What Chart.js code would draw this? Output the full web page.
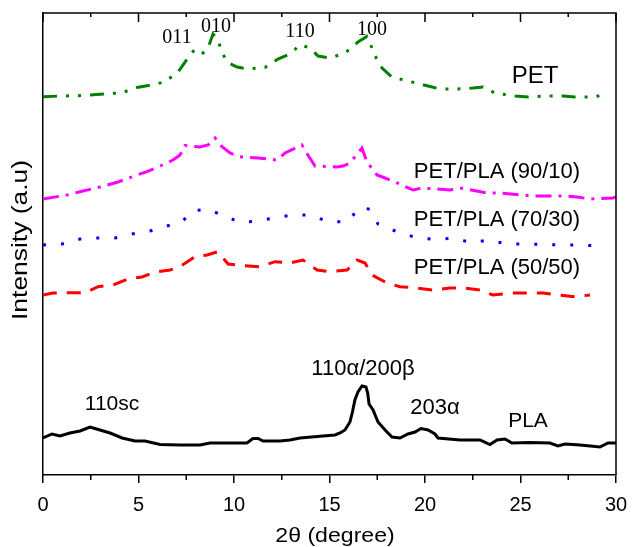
<!DOCTYPE html>
<html>
<head>
<meta charset="utf-8">
<script src="https://cdn.jsdelivr.net/npm/chart.js@4.4.1/dist/chart.umd.min.js"></script>
<style>
  html, body { margin: 0; padding: 0; background: #fff; }
  #wrap { width: 632px; height: 547px; }
</style>
</head>
<body>
<div id="wrap"><canvas id="xrd" width="632" height="547"></canvas></div>
<script>
// x tick labels and range
const xTicks = [0, 5, 10, 15, 20, 25, 30];

// PLA (black solid)
const plaX = [0, 0.47, 0.89, 1.41, 1.94, 2.46, 2.98, 3.51, 4.14, 4.82, 5.34, 6.13, 7.17, 8.22, 8.74, 9.79, 10.68, 10.99, 11.26, 11.52, 12.41, 12.93, 13.46, 14.66, 15.29, 15.55, 15.81, 16.07, 16.2, 16.33, 16.49, 16.7, 16.91, 17.0, 17.07, 17.28, 17.54, 17.91, 18.27, 18.69, 19.11, 19.48, 19.79, 20.16, 20.52, 20.68, 21.83, 22.88, 23.4, 23.77, 24.19, 24.55, 25.5, 26.54, 26.96, 27.33, 28.12, 29.16, 29.58, 30];
const plaY = [37, 41, 39, 42, 44, 48, 45, 42, 37, 34, 34, 30.5, 30, 30, 32, 32, 32, 36.5, 36.5, 34, 34, 35, 37, 39, 40, 42, 45, 53, 63, 75, 83, 89, 88, 82, 71, 65, 53, 45, 38, 37, 41, 43, 46.5, 45, 41, 37, 35, 35, 30.5, 35, 36, 32, 32.5, 32, 29, 31, 30, 28, 32, 32];

// PET (green dash-dot-dot)
const petX = [0, 0.89, 2.2, 2.98, 4.14, 4.92, 5.86, 6.39, 7.07, 7.59, 7.96, 8.38, 8.64, 8.9, 9.16, 9.37, 9.63, 10.16, 10.73, 11.62, 12.3, 12.93, 13.46, 13.98, 14.4, 15.03, 15.81, 16.49, 16.96, 17.23, 17.49, 17.75, 18.27, 19.21, 20.16, 20.79, 21.73, 22.51, 23.04, 23.66, 24.71, 25.39, 26.28, 27.23, 27.85, 28.9, 29.53];
const petY = [378.3, 379, 379.5, 380.7, 382.3, 387.5, 390.7, 393.3, 403, 417, 426, 422, 427, 441, 435, 423, 413, 408, 406, 407.5, 416, 421, 430, 427, 419, 417, 422, 433, 438.5, 427, 415, 407, 398, 393.5, 389, 386, 386, 387, 388, 382, 379, 378, 379, 379, 378, 378, 382];

// PET/PLA (90/10) (magenta dash-dot)
const p90X = [0, 1.26, 1.94, 2.98, 3.93, 4.92, 5.45, 6.13, 6.81, 7.17, 7.43, 8.22, 8.64, 9.01, 9.27, 9.79, 10.31, 11.26, 12.25, 12.67, 13.56, 13.87, 14.24, 15.39, 15.71, 16.07, 16.7, 16.96, 17.49, 17.91, 18.43, 19.37, 19.84, 21.31, 21.83, 23.25, 23.93, 25.65, 27.43, 27.96, 28.64, 29.84, 30];
const p90Y = [276, 280, 283.3, 288, 293, 300, 303.3, 309, 315, 320, 329.5, 328, 330, 337, 330, 322, 318.3, 317, 315, 322, 330, 320, 309, 308, 309, 312, 327, 313, 300, 297, 293, 285, 287, 285, 287, 282, 282, 279, 279, 278, 276, 277, 278];

// PET/PLA (70/30) (blue dotted)
const p70X = [0, 0.99, 1.94, 2.88, 3.77, 4.66, 5.6, 6.49, 7.28, 7.85, 8.64, 9.37, 10.31, 11.26, 12.25, 13.09, 13.98, 14.92, 15.92, 16.6, 17.12, 17.54, 18.53, 19.48, 20.42, 21.47, 22.46, 23.3, 24.29, 25.24, 26.18, 27.17, 28.12, 29.06];
const p70Y = [230, 231, 236, 237, 237, 241, 244, 249, 253.3, 264.3, 265.7, 260, 252.7, 254, 257.7, 260, 260, 253.3, 253.3, 267.7, 265.7, 251, 243.3, 237.7, 235.7, 236.7, 232.3, 235, 231, 231, 230.7, 230, 230, 229];

// PET/PLA (50/50) (red dashed)
const p50X = [0, 0.52, 1.31, 2.2, 2.88, 3.66, 4.45, 5.18, 5.86, 6.65, 7.17, 7.96, 8.59, 9.16, 9.69, 10.47, 11.36, 12.15, 12.93, 13.61, 14.35, 15.03, 15.92, 16.44, 16.86, 17.23, 18.01, 18.69, 19.58, 20.37, 21.31, 21.99, 22.88, 23.56, 24.55, 25.34, 26.18, 26.96, 27.85, 28.64];
const p50Y = [180, 182, 182.3, 182.3, 188.3, 190, 196, 198, 203, 205, 208.3, 218.3, 220, 223.3, 211, 209.3, 208.3, 213.3, 212, 215, 205, 203.3, 205, 215, 212, 200, 192, 188.3, 187, 185, 187, 187, 185, 180, 182, 182, 182, 180, 178.3, 180];

function pts(xs, ys) {
    return xs.map((x, i) => ({ x: x, y: ys[i] }));
}

const sans = 'Liberation Sans, Arial, sans-serif';
const serif = 'Liberation Serif, Times New Roman, serif';

// Các nhãn chữ trên biểu đồ: [text, x px, baseline px, font]
const labels = [
    ['011', 177, 43, '20px ' + serif],
    ['010', 216, 32, '20px ' + serif],
    ['110', 300, 37, '20px ' + serif],
    ['100', 372, 35, '20px ' + serif],
    ['PET', 535, 83, '24px ' + sans],
    ['PET/PLA (90/10)', 497, 178, '22px ' + sans],
    ['PET/PLA (70/30)', 497, 226, '22px ' + sans],
    ['PET/PLA (50/50)', 497, 274, '22px ' + sans],
    ['110sc', 112, 410, '21px ' + sans],
    ['110\u03b1/200\u03b2', 363, 375, '22px ' + sans],
    ['203\u03b1', 435, 414, '22px ' + sans],
    ['PLA', 528, 427, '21px ' + sans]
];

// plugin vẽ khung, vạch chia phụ và chữ
const decor = {
    id: 'decor',
    afterDraw(chart) {
        const ctx = chart.ctx;
        const a = chart.chartArea;
        const xs = chart.scales.x;
        ctx.save();
        ctx.strokeStyle = '#000';
        ctx.lineWidth = 1.5;
        ctx.beginPath();
        ctx.moveTo(a.left, a.top);
        ctx.lineTo(a.right, a.top);
        ctx.lineTo(a.right, a.bottom);
        ctx.stroke();
        // ticks
        ctx.beginPath();
        for (let v = 0; v <= 30; v += 2.5) {
            const px = xs.getPixelForValue(v);
            const major = v % 5 === 0;
            ctx.moveTo(px, a.top);
            ctx.lineTo(px, a.top + (major ? 9 : 4));
            if (!major) {
                ctx.moveTo(px, a.bottom);
                ctx.lineTo(px, a.bottom + 5);
            }
        }
        ctx.stroke();

        ctx.fillStyle = '#000';
        ctx.textAlign = 'center';
        ctx.textBaseline = 'alphabetic';
        labels.forEach(l => {
            ctx.font = l[3];
            ctx.fillText(l[0], l[1], l[2]);
        });

        // x title
        ctx.save();
        ctx.font = '21px ' + sans;
        ctx.translate(335, 542);
        ctx.scale(1.1, 1);
        ctx.fillText('2\u03b8 (degree)', 0, 0);
        ctx.restore();

        // y title
        ctx.save();
        ctx.font = '22px ' + sans;
        ctx.translate(27, 240);
        ctx.rotate(-Math.PI / 2);
        ctx.scale(1.2, 1);
        ctx.fillText('Intensity (a.u)', 0, 0);
        ctx.restore();
        ctx.restore();
    }
};

function line(label, xs, ys, color, dash) {
    return {
        label: label,
        data: pts(xs, ys),
        borderColor: color,
        borderWidth: 3,
        borderDash: dash,
        borderCapStyle: 'butt',
        pointRadius: 0,
        tension: 0,
        fill: false
    };
}

new Chart(document.getElementById('xrd'), {
    type: 'line',
    data: {
        datasets: [
            line('PET', petX, petY, '#008000', [14, 9, 3, 9, 3, 9]),
            line('PET/PLA (90/10)', p90X, p90Y, '#ff00ff', [16, 7, 3, 7]),
            line('PET/PLA (70/30)', p70X, p70Y, '#0000ff', [3, 15]),
            line('PET/PLA (50/50)', p50X, p50Y, '#ff0000', [14, 10]),
            line('PLA', plaX, plaY, '#000000', [])
        ]
    },
    options: {
        responsive: false,
        animation: false,
        devicePixelRatio: 1,
        layout: { padding: { top: 13, right: 16, left: 0, bottom: 0 } },
        plugins: { legend: { display: false }, tooltip: { enabled: false } },
        scales: {
            x: {
                type: 'linear',
                min: 0,
                max: 30,
                afterBuildTicks: s => { s.ticks = xTicks.map(v => ({ value: v })); },
                afterFit: s => { s.height = 72; s.paddingLeft = 0; s.paddingRight = 0; },
                ticks: { color: '#000', font: { family: sans, size: 20 }, padding: 10, maxRotation: 0 },
                grid: { drawOnChartArea: false, drawTicks: true, tickLength: 8, color: '#000', lineWidth: 1.5 },
                border: { display: true, color: '#000', width: 1.5 }
            },
            y: {
                min: 0,
                max: 462,
                afterFit: s => { s.width = 43; s.paddingTop = 0; s.paddingBottom = 0; },
                ticks: { display: false },
                grid: { display: false },
                border: { display: true, color: '#000', width: 1.5 }
            }
        }
    },
    plugins: [decor]
});
</script>
</body>
</html>
